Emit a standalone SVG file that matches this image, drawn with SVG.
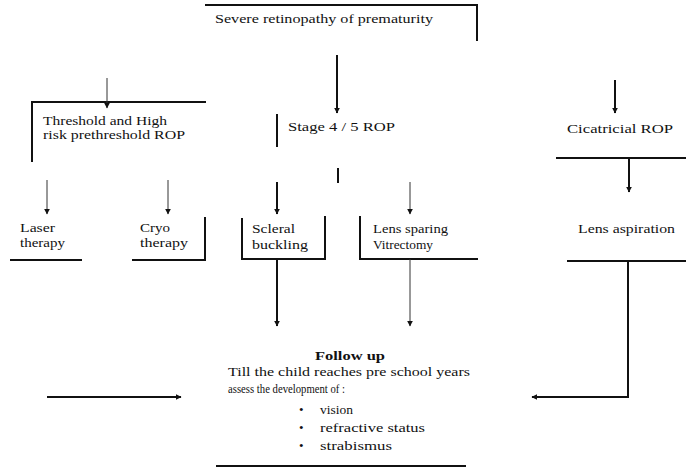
<svg xmlns="http://www.w3.org/2000/svg" width="686" height="468" viewBox="0 0 686 468">
<style>
text{font-family:"Liberation Serif","Times New Roman",serif;font-size:13px;fill:#111}
.b{font-weight:bold}
.l{stroke:#111;stroke-width:2;fill:none}
.t{stroke:#333;stroke-width:1;fill:none}
</style>
<defs>
<marker id="a" viewBox="0 0 10 10" refX="9" refY="5" markerWidth="6" markerHeight="6" markerUnits="userSpaceOnUse" orient="auto"><path d="M0,0L10,5L0,10z" fill="#111"/></marker>
</defs>
<rect width="686" height="468" fill="#fff"/>
<g id="n-severe">
<path class="l" d="M205,5H477V41"/>
<text x="215" y="23" textLength="218" lengthAdjust="spacingAndGlyphs">Severe retinopathy of prematurity</text>
</g>
<g id="n-threshold">
<path class="l" d="M32,162V102H206"/>
<text x="43" y="125" textLength="124" lengthAdjust="spacingAndGlyphs">Threshold and High</text>
<text x="43" y="139" textLength="142" lengthAdjust="spacingAndGlyphs">risk prethreshold ROP</text>
</g>
<g id="n-stage">
<path class="l" d="M277,114V147"/>
<text x="288" y="131" textLength="107" lengthAdjust="spacingAndGlyphs">Stage 4 / 5 ROP</text>
</g>
<g id="n-cicatricial">
<text x="567" y="133" textLength="106" lengthAdjust="spacingAndGlyphs">Cicatricial ROP</text>
<path class="l" d="M556,158H686"/>
</g>
<g id="n-laser">
<text x="20" y="232" textLength="35" lengthAdjust="spacingAndGlyphs">Laser</text>
<text x="20" y="247" textLength="45" lengthAdjust="spacingAndGlyphs">therapy</text>
<path class="l" d="M10,260H82"/>
</g>
<g id="n-cryo">
<text x="140" y="232" textLength="30" lengthAdjust="spacingAndGlyphs">Cryo</text>
<text x="140" y="247" textLength="48" lengthAdjust="spacingAndGlyphs">therapy</text>
<path class="l" d="M132,260H205V217"/>
</g>
<g id="n-scleral">
<path class="l" d="M242,218V259H325V216"/>
<text x="252" y="233" textLength="43" lengthAdjust="spacingAndGlyphs">Scleral</text>
<text x="252" y="249" textLength="56" lengthAdjust="spacingAndGlyphs">buckling</text>
</g>
<g id="n-lens-sparing">
<path class="l" d="M360,216V259H478"/>
<text x="373" y="233" textLength="75" lengthAdjust="spacingAndGlyphs">Lens sparing</text>
<text x="373" y="249" textLength="60" lengthAdjust="spacingAndGlyphs">Vitrectomy</text>
</g>
<g id="n-lens-aspiration">
<text x="578" y="233" textLength="97" lengthAdjust="spacingAndGlyphs">Lens aspiration</text>
<path class="l" d="M567,261H686"/>
</g>
<g id="n-follow">
<text class="b" x="315" y="360" textLength="70" lengthAdjust="spacingAndGlyphs">Follow up</text>
<text x="228" y="376" textLength="242" lengthAdjust="spacingAndGlyphs">Till the child reaches pre school years</text>
<text x="228" y="393" textLength="117" lengthAdjust="spacingAndGlyphs">assess the development of :</text>
<text x="299" y="414">•</text><text x="320" y="414" textLength="33" lengthAdjust="spacingAndGlyphs">vision</text>
<text x="299" y="432">•</text><text x="320" y="432" textLength="105" lengthAdjust="spacingAndGlyphs">refractive status</text>
<text x="299" y="450">•</text><text x="320" y="450" textLength="72" lengthAdjust="spacingAndGlyphs">strabismus</text>
<path class="l" d="M216,466H466" stroke-width="2.5"/>
</g>
<g id="connectors">
<path class="l" d="M337,55V113" marker-end="url(#a)"/>
<path class="t" d="M107,78V108" marker-end="url(#a)"/>
<path class="l" d="M338,168V183"/>
<path class="l" d="M615,80V113" marker-end="url(#a)"/>
<path class="l" d="M629,158V192" marker-end="url(#a)"/>
<path class="t" d="M47,180V214" marker-end="url(#a)"/>
<path class="t" d="M168,180V214" marker-end="url(#a)"/>
<path class="l" d="M277,182V214" marker-end="url(#a)"/>
<path class="t" d="M410,182V214" marker-end="url(#a)"/>
<path class="l" d="M277,259V326" marker-end="url(#a)"/>
<path class="t" d="M410,259V326" marker-end="url(#a)"/>
<path class="l" d="M47,397H181" marker-end="url(#a)"/>
<path class="l" d="M628,261V397H532" marker-end="url(#a)"/>
</g>
</svg>
